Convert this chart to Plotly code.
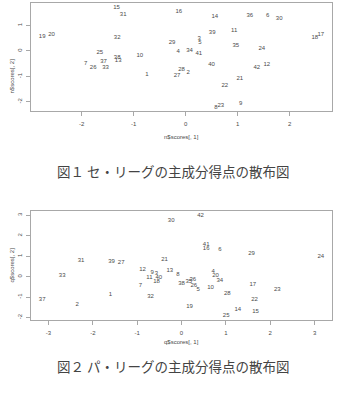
import plotly.graph_objects as go

labels = [str(i) for i in range(1, 43)]

# Figure 1: Central League principal component scores
central_x = [-0.744, 0.05, 0.262, -0.142, 0.275, 1.577, -1.923, 0.583, 1.058, -0.879,
             0.935, 1.563, -1.296, 0.563, -1.327, -0.129, 2.602, 2.487, -2.758, -2.577,
             1.044, 0.756, 0.679, 1.467, -1.648, -1.777, -0.162, -0.077, -0.258, 1.8,
             -1.2, -1.315, -1.538, 0.077, 0.967, 1.237, -1.577, -1.315, 0.512, 0.5,
             0.256, 1.371]
central_y = [-0.906, -0.866, 0.484, -0.039, 0.315, 1.39, -0.5, -2.205, -2.075, -0.185,
             0.811, -0.512, -0.382, 1.339, 1.732, 1.559, 0.642, 0.551, 0.575, 0.642,
             -1.091, -1.354, -2.154, 0.091, -0.055, -0.669, -0.961, -0.736, 0.339, 1.299,
             1.429, 0.535, -0.669, 0.024, 0.209, 1.39, -0.409, -0.252, 0.709, -0.512,
             -0.106, -0.669]

# Figure 2: Pacific League principal component scores
pacific_x = [-1.602, -2.353, -0.564, 0.715, 0.377, 0.864, -0.925, -0.083, -0.661, 0.654,
             -0.722, -0.88, -0.264, 1.27, 1.669, 0.557, 1.608, -0.564, 0.18, 0.767,
             -0.383, 1.647, 2.159, 3.142, 1.008, 0.277, -1.36, 1.031, 1.579, -0.232,
             -2.263, -0.699, -2.691, 0.864, 0.165, 0.255, -3.142, 0.0, -1.579, -0.512,
             0.557, 0.429]
pacific_y = [-0.869, -1.363, 0.133, 0.247, -0.607, 1.319, -0.425, 0.084, 0.217, -0.543,
             -0.03, 0.331, 0.296, -1.595, -1.694, 1.368, -0.41, -0.247, -1.447, 0.035,
             0.859, -1.116, -0.622, 0.988, -1.926, -0.459, 0.691, -0.82, 1.106, 2.765,
             0.81, -0.988, 0.049, -0.178, -0.247, -0.163, -1.116, -0.326, 0.741, -0.049,
             1.565, 3.012]

x1_ticks = [-2, -1, 0, 1, 2]
y1_ticks = [-2, -1, 0, 1]
x2_ticks = [-3, -2, -1, 0, 1, 2, 3]
y2_ticks = [-2, -1, 0, 1, 2, 3]

titles = {
    "x1": "n$scores[, 1]", "y1": "n$scores[, 2]",
    "x2": "q$scores[, 1]", "y2": "q$scores[, 2]",
}
captions = ["図１ セ・リーグの主成分得点の散布図", "図２ パ・リーグの主成分得点の散布図"]


def rrange(v):
    lo, hi = min(v), max(v)
    d = (hi - lo) * 0.04
    return [lo - d, hi + d]


W, H = 337, 401
FONT = "Liberation Sans, Arial, sans-serif"
TXT = "#4a4a4a"
LINE = "#a8a8a8"

fig = go.Figure()
fig.add_trace(go.Scatter(x=central_x, y=central_y, text=labels, mode="text",
                         textposition="middle center",
                         textfont=dict(size=6, color=TXT, family=FONT),
                         xaxis="x", yaxis="y", hoverinfo="skip"))
fig.add_trace(go.Scatter(x=pacific_x, y=pacific_y, text=labels, mode="text",
                         textposition="middle center",
                         textfont=dict(size=6, color=TXT, family=FONT),
                         xaxis="x2", yaxis="y2", hoverinfo="skip"))

xdom = [31 / W, 332 / W]
y1dom = [1 - 111 / H, 1 - 3 / H]
y2dom = [1 - 320 / H, 1 - 211 / H]


def ax(domain, rng, ticks, anchor, is_y=False):
    d = dict(domain=domain, range=rng, tickvals=ticks, ticktext=[str(t) for t in ticks],
             showgrid=False, zeroline=False, showline=True, mirror=True,
             linecolor=LINE, linewidth=1, ticks="outside", ticklen=4, tickwidth=1,
             tickcolor=LINE, tickfont=dict(size=6, color=TXT, family=FONT),
             anchor=anchor, fixedrange=True)
    if is_y:
        d["tickangle"] = -90
        d["ticklabelstandoff"] = 2
    else:
        d["ticklabelstandoff"] = 3
    return d


fig.update_layout(
    width=W, height=H, margin=dict(l=0, r=0, t=0, b=0),
    paper_bgcolor="white", plot_bgcolor="white", showlegend=False,
    xaxis=ax(xdom, rrange(central_x), x1_ticks, "y"),
    yaxis=ax(y1dom, rrange(central_y), y1_ticks, "x", True),
    xaxis2=ax(xdom, rrange(pacific_x), x2_ticks, "y2"),
    yaxis2=ax(y2dom, rrange(pacific_y), y2_ticks, "x2", True),
)

ann = []
cx = (31 + 332) / 2 / W
ann.append(dict(text=titles["x1"], x=cx, y=1 - 137 / H, xref="paper", yref="paper",
                showarrow=False, font=dict(size=6, color=TXT, family=FONT)))
ann.append(dict(text=titles["y1"], x=6 / W, y=1 - 57 / H, xref="paper", yref="paper",
                showarrow=False, textangle=-90, font=dict(size=6, color=TXT, family=FONT)))
ann.append(dict(text=titles["x2"], x=cx, y=1 - 347 / H, xref="paper", yref="paper",
                showarrow=False, font=dict(size=6, color=TXT, family=FONT)))
ann.append(dict(text=titles["y2"], x=6 / W, y=1 - 265.5 / H, xref="paper", yref="paper",
                showarrow=False, textangle=-90, font=dict(size=6, color=TXT, family=FONT)))
ann.append(dict(text=captions[0], x=173 / W, y=1 - 171 / H, xref="paper", yref="paper",
                showarrow=False, font=dict(size=13.5, color="#444", family="Noto Sans CJK JP")))
ann.append(dict(text=captions[1], x=173 / W, y=1 - 378 / H, xref="paper", yref="paper",
                showarrow=False, font=dict(size=13.5, color="#444", family="Noto Sans CJK JP")))
fig.update_layout(annotations=ann)

fig.write_html("out.html")
